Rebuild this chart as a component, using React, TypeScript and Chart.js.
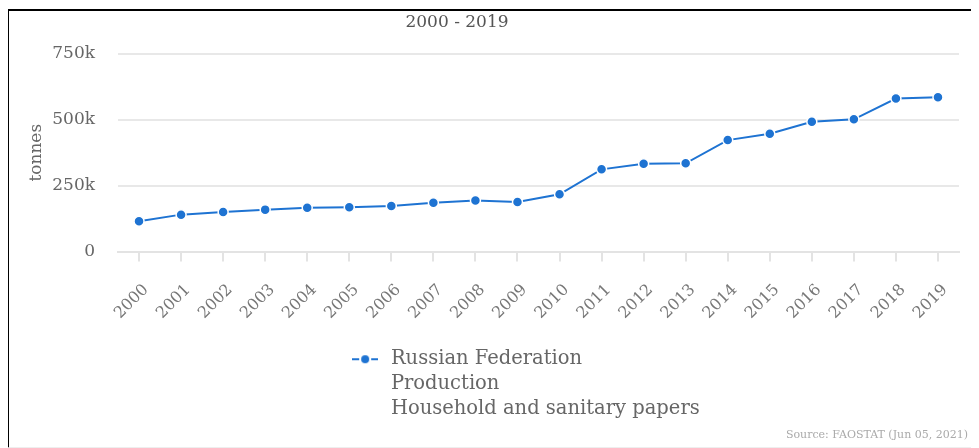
import React, { useEffect, useRef } from 'react';
import { Chart, registerables } from 'chart.js';

Chart.register(...registerables);

const years = ['2000', '2001', '2002', '2003', '2004', '2005', '2006', '2007', '2008', '2009', '2010', '2011', '2012', '2013', '2014', '2015', '2016', '2017', '2018', '2019'];
const production = [115000, 140000, 150000, 159000, 166000, 168000, 173000, 185000, 194000, 188000, 217000, 312000, 333000, 335000, 423000, 447000, 493000, 502000, 581000, 586000];
const yTickValues = [0, 250000, 500000, 750000];
const yTickLabels = ['0', '250k', '500k', '750k'];
const titleText = '2000 - 2019';
const yAxisTitle = 'tonnes';
const legendLines = ['Russian Federation', 'Production', 'Household and sanitary papers'];
const sourceText = 'Source: FAOSTAT (Jun 05, 2021)';

const BLUE = '#1e73d2';
const FONT = '"DejaVu Serif", serif';

function makeLegendSymbol(): HTMLCanvasElement {
  const c = document.createElement('canvas');
  c.width = 26;
  c.height = 10;
  const g = c.getContext('2d')!;
  g.strokeStyle = BLUE;
  g.lineWidth = 2;
  g.beginPath();
  g.moveTo(0, 5);
  g.lineTo(7, 5);
  g.moveTo(19, 5);
  g.lineTo(26, 5);
  g.stroke();
  g.fillStyle = BLUE;
  g.beginPath();
  g.arc(13, 5, 4, 0, Math.PI * 2);
  g.fill();
  return c;
}

const extraText = {
  id: 'extraText',
  afterLayout(chart: any) {
    const lg = chart.legend;
    if (lg) {
      lg.left += 142;
      lg.right += 142;
      lg.bottom += 60;
      lg.height += 60;
    }
  },
  afterDraw(chart: any) {
    const ctx = chart.ctx;
    ctx.save();
    ctx.font = `17px ${FONT}`;
    ctx.fillStyle = '#555';
    ctx.textAlign = 'center';
    ctx.textBaseline = 'middle';
    ctx.fillText(titleText, 448, 12);
    ctx.font = `11px ${FONT}`;
    ctx.fillStyle = '#aaa';
    ctx.textAlign = 'right';
    ctx.fillText(sourceText, chart.width - 5, 424);
    ctx.restore();
  },
};

export default function App() {
  const ref = useRef<HTMLCanvasElement>(null);
  useEffect(() => {
    if (!ref.current) return;
    const symbol = makeLegendSymbol();
    const chart = new Chart(ref.current, {
      type: 'line',
      data: {
        labels: years,
        datasets: [
          {
            label: legendLines[0],
            data: production,
            borderColor: BLUE,
            backgroundColor: BLUE,
            borderWidth: 2,
            pointRadius: 5,
            pointBackgroundColor: BLUE,
            pointBorderColor: '#ffffff',
            pointBorderWidth: 1.5,
            tension: 0,
          },
        ],
      },
      options: {
        animation: false,
        responsive: true,
        maintainAspectRatio: false,
        layout: { padding: { top: 43, right: 14, bottom: 68, left: 0 } },
        plugins: {
          tooltip: { enabled: false },
          title: { display: false },
          legend: {
            display: true,
            position: 'bottom',
            fullSize: false,
            labels: {
              usePointStyle: true,
              pointStyleWidth: 32,
              color: '#666',
              font: { family: FONT, size: 19.5, lineHeight: 25 / 19.5 },
              generateLabels: () => [
                {
                  text: legendLines as any,
                  fillStyle: BLUE,
                  strokeStyle: BLUE,
                  pointStyle: symbol as any,
                  hidden: false,
                  datasetIndex: 0,
                  fontColor: '#666',
                } as any,
              ],
            },
          },
        },
        scales: {
          x: {
            type: 'category',
            offset: true,
            grid: {
              display: true,
              drawOnChartArea: false,
              drawTicks: true,
              tickLength: 10,
              color: '#e3e3e3',
              lineWidth: 2,
            },
            border: { display: true, color: '#e3e3e3', width: 2 },
            ticks: {
              color: '#777',
              font: { family: FONT, size: 16 },
              minRotation: 45,
              maxRotation: 45,
              autoSkip: false,
              padding: 19,
              labelOffset: 7,
            },
            afterFit: (scale: any) => {
              scale.height = 88;
            },
          },
          y: {
            min: 0,
            max: 750000,
            afterBuildTicks: (scale: any) => {
              scale.ticks = yTickValues.map((v) => ({ value: v }));
            },
            grid: { color: '#e8e8e8', lineWidth: 2, drawTicks: false },
            border: { display: false },
            ticks: {
              color: '#666',
              font: { family: FONT, size: 17 },
              padding: 23,
              callback: (v: any) => {
                const i = yTickValues.indexOf(Number(v));
                return i >= 0 ? yTickLabels[i] : '';
              },
            },
            title: {
              display: true,
              text: yAxisTitle,
              color: '#666',
              font: { family: FONT, size: 17 },
              padding: { top: 17, bottom: 0 },
            },
            afterFit: (scale: any) => {
              scale.width = 109;
            },
          },
        },
      },
      plugins: [extraText],
    });
    return () => chart.destroy();
  }, []);

  return (
    <div
      style={{
        marginTop: 1,
        marginLeft: -1,
        width: 964,
        height: 436,
        borderTop: '2px solid #000',
        borderLeft: '2px solid #000',
        borderRight: '1px solid #eee',
        borderBottom: '1px solid #eee',
        background: '#fff',
      }}
    >
      <div style={{ position: 'relative', width: 964, height: 436 }}>
        <canvas ref={ref} />
      </div>
    </div>
  );
}
